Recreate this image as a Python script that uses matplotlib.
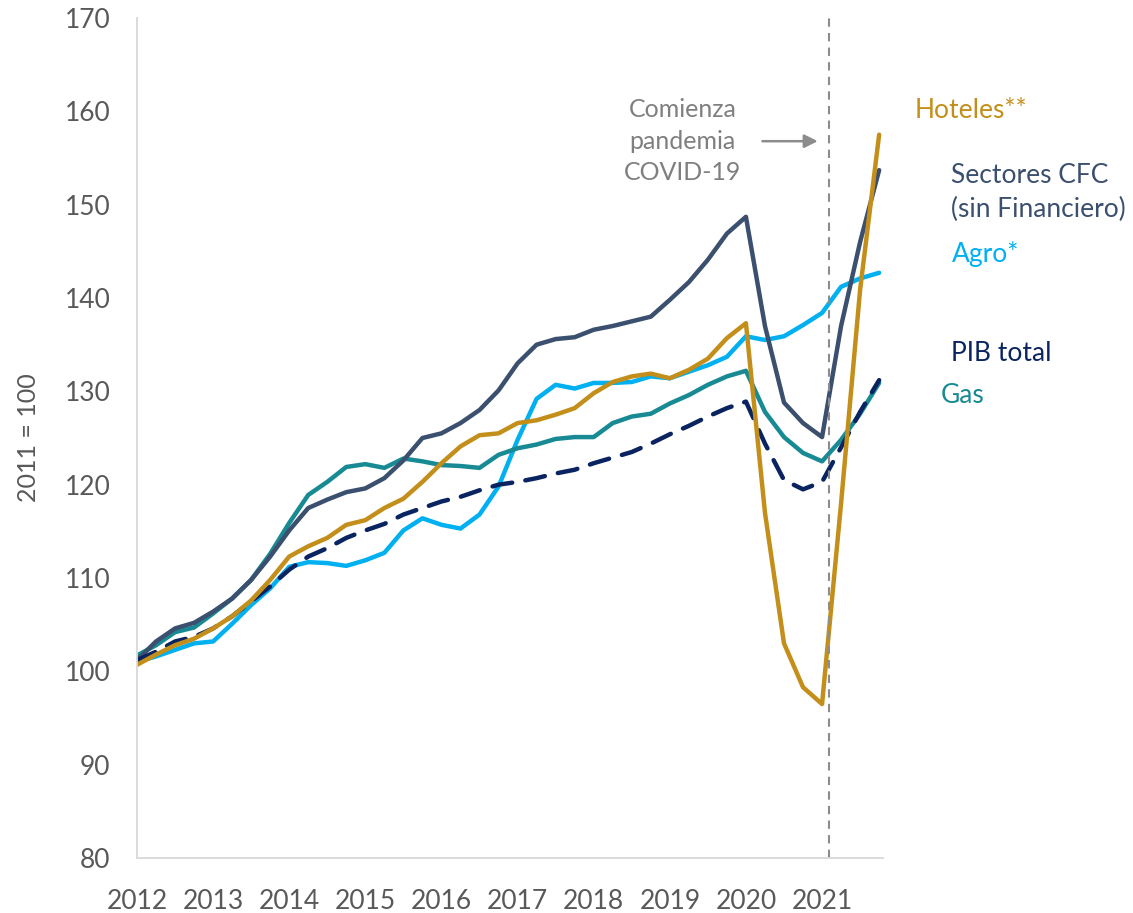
import numpy as np
import matplotlib.pyplot as plt

plt.rcParams['font.family'] = ['Lato', 'DejaVu Sans']

# quarterly points, 2012Q1 .. 2021Q4
x = 2012 + np.arange(40) / 4.0
years = list(range(2012, 2022))

hoteles = [100.7, 101.8, 102.8, 103.5, 104.6, 105.9, 107.6, 109.8, 112.3, 113.4,
           114.3, 115.7, 116.2, 117.5, 118.5, 120.3, 122.3, 124.1, 125.3, 125.5,
           126.6, 126.9, 127.5, 128.2, 129.8, 131.0, 131.6, 131.9, 131.4, 132.3,
           133.5, 135.7, 137.3, 117.0, 103.0, 98.3, 96.5, 118.0, 140.9, 157.5]
cfc = [101.2, 103.2, 104.6, 105.2, 106.4, 107.8, 109.8, 112.3, 115.1, 117.5,
       118.4, 119.2, 119.6, 120.7, 122.6, 125.0, 125.5, 126.6, 128.0, 130.1,
       133.0, 135.0, 135.6, 135.8, 136.6, 137.0, 137.5, 138.0, 139.8, 141.7,
       144.1, 146.9, 148.7, 137.0, 128.8, 126.6, 125.1, 137.0, 146.0, 153.7]
agro = [101.0, 101.6, 102.3, 103.0, 103.2, 105.1, 107.1, 108.9, 111.2, 111.7,
        111.6, 111.3, 111.9, 112.7, 115.1, 116.4, 115.7, 115.3, 116.8, 119.8,
        124.8, 129.2, 130.7, 130.3, 130.9, 130.9, 131.0, 131.6, 131.4, 132.1,
        132.8, 133.7, 135.9, 135.5, 135.9, 137.1, 138.4, 141.2, 142.1, 142.7]
pib = [101.2, 102.1, 103.2, 103.7, 104.6, 105.9, 107.5, 109.1, 110.9, 112.3,
       113.2, 114.3, 115.1, 115.8, 116.8, 117.5, 118.2, 118.7, 119.4, 120.0,
       120.3, 120.7, 121.2, 121.6, 122.3, 122.9, 123.5, 124.4, 125.4, 126.3,
       127.3, 128.2, 128.9, 124.4, 120.5, 119.5, 120.3, 124.0, 127.8, 131.2]
gas = [101.7, 102.8, 104.2, 104.7, 106.2, 107.8, 109.8, 112.6, 115.9, 118.9,
       120.3, 121.9, 122.2, 121.8, 122.8, 122.5, 122.1, 122.0, 121.8, 123.2,
       123.9, 124.3, 124.9, 125.1, 125.1, 126.6, 127.3, 127.6, 128.7, 129.6,
       130.7, 131.6, 132.2, 127.8, 125.1, 123.4, 122.5, 124.8, 127.6, 130.9]

c_hot = '#C38F1A'
c_cfc = '#3B4F6E'
c_agro = '#00B0F0'
c_pib = '#0A2461'
c_gas = '#178A93'
grey = '#595959'

fig = plt.figure(figsize=(11.33, 9.13), dpi=100)
ax = fig.add_axes([0.1209, 0.0602, 0.6584, 0.9201])

kw = dict(lw=3.2, solid_capstyle='round', solid_joinstyle='round')
ax.plot(x, agro, color=c_agro, **kw)
ax.plot(x, gas, color=c_gas, **kw)
ax.plot(x, cfc, color=c_cfc, **kw)
ax.plot(x, pib, color=c_pib, lw=3.2, dashes=(4.5, 3), dash_capstyle='round',
        dash_joinstyle='round')
ax.plot(x, hoteles, color=c_hot, **kw)

# inicio pandemia
ax.axvline(2021.09, color='#8C8C8C', lw=1.5, dashes=(4, 3))
ax.annotate('', xy=(2020.98, 156.8), xytext=(2020.18, 156.8),
            arrowprops=dict(arrowstyle='-|>', color='#8C8C8C', lw=1.8,
                            mutation_scale=20))
ax.text(2019.17, 156.8, 'Comienza\npandemia\nCOVID-19', ha='center', va='center',
        fontsize=18, color='#7F7F7F', linespacing=1.45)

# etiquetas de series
fs = 19
ax.text(2022.22, 160.1, 'Hoteles**', color=c_hot, fontsize=fs, va='center', clip_on=False)
ax.text(2022.70, 151.3, 'Sectores CFC\n(sin Financiero)', color=c_cfc, fontsize=fs,
        va='center', linespacing=1.4, clip_on=False)
ax.text(2022.70, 144.7, 'Agro*', color=c_agro, fontsize=fs, va='center', clip_on=False)
ax.text(2022.70, 134.1, 'PIB total', color=c_pib, fontsize=fs, va='center', clip_on=False)
ax.text(2022.56, 129.6, 'Gas', color=c_gas, fontsize=fs, va='center', clip_on=False)

ax.set_xlim(2012, 2021.8)
ax.set_ylim(80, 170)
ax.set_yticks(np.arange(80, 171, 10))
ax.set_xticks(years)
ax.set_xticklabels([str(y) for y in years])
ax.tick_params(length=0, labelsize=19, labelcolor=grey)
ax.tick_params(axis='y', pad=19)
ax.tick_params(axis='x', pad=22)
ax.set_ylabel('2011 = 100', fontsize=18, color=grey, labelpad=18)

for s in ['top', 'right']:
    ax.spines[s].set_visible(False)
for s in ['left', 'bottom']:
    ax.spines[s].set_color('#D9D9D9')
    ax.spines[s].set_linewidth(1.3)

fig.savefig('out.png', dpi=100)
